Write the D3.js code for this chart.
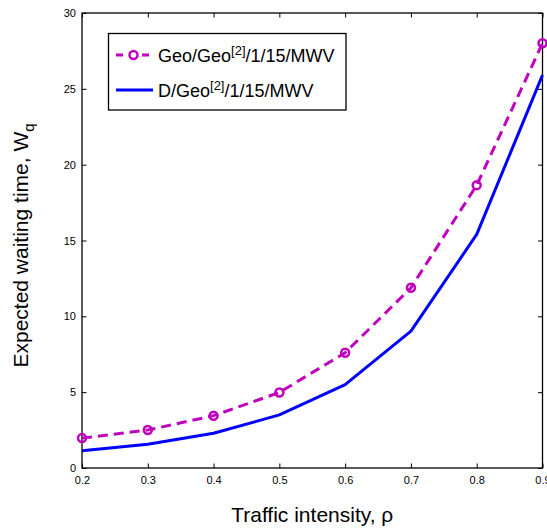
<!DOCTYPE html>
<html>
<head>
<meta charset="utf-8">
<script src="https://cdn.jsdelivr.net/npm/d3@7"></script>
<style>
  body { margin: 0; background: #fff; }
  svg { font-family: "Liberation Sans", Arial, Helvetica, sans-serif; }
</style>
</head>
<body>
<div class="display"></div>
<script>
// values
const rho = [0.2, 0.3, 0.4, 0.5, 0.6, 0.7, 0.8, 0.9];
const geoWait = [1.97, 2.5, 3.45, 4.98, 7.6, 11.88, 18.65, 28.0];
const detWait = [1.14, 1.57, 2.29, 3.5, 5.5, 9.02, 15.4, 25.9];
const xTicks = [0.2, 0.3, 0.4, 0.5, 0.6, 0.7, 0.8, 0.9];
const yTicks = [0, 5, 10, 15, 20, 25, 30];
const seriesNames = ['Geo/Geo', 'D/Geo'];

const config = {
  width: 547,
  height: 532,
  left: 82,
  right: 542.5,
  top: 13,
  bottom: 468,
  magenta: '#bf00bf',
  blue: '#0000ff'
};

const svg = d3.select('.display')
  .append('svg')
  .attr('width', config.width)
  .attr('height', config.height);

const x = d3.scaleLinear()
  .domain([0.2, 0.9])
  .range([config.left, config.right]);

const y = d3.scaleLinear()
  .domain([0, 30])
  .range([config.bottom, config.top]);

// axes, ticks pointing inside like matlab
const xAxis = svg.append('g')
  .attr('transform', `translate(0, ${config.bottom})`)
  .call(d3.axisBottom(x).tickValues(xTicks).tickFormat(d3.format('.1f'))
    .tickSizeInner(-4.5).tickSizeOuter(0).tickPadding(8));

svg.append('g')
  .attr('transform', `translate(0, ${config.top})`)
  .call(d3.axisTop(x).tickValues(xTicks).tickFormat('')
    .tickSizeInner(-4.5).tickSizeOuter(0));

const yAxis = svg.append('g')
  .attr('transform', `translate(${config.left}, 0)`)
  .call(d3.axisLeft(y).tickValues(yTicks)
    .tickSizeInner(-4.5).tickSizeOuter(0).tickPadding(6));

svg.append('g')
  .attr('transform', `translate(${config.right}, 0)`)
  .call(d3.axisRight(y).tickValues(yTicks).tickFormat('')
    .tickSizeInner(-4.5).tickSizeOuter(0));

svg.selectAll('.domain').remove();
svg.selectAll('.tick line').attr('stroke', '#000').attr('stroke-width', 1);
svg.selectAll('.tick text')
  .attr('fill', '#000')
  .style('font-size', '11px');

// frame
svg.append('rect')
  .attr('x', config.left)
  .attr('y', config.top)
  .attr('width', config.right - config.left)
  .attr('height', config.bottom - config.top)
  .attr('fill', 'none')
  .attr('stroke', '#000')
  .attr('stroke-width', 1.3);

const line = d3.line()
  .x((d, i) => x(rho[i]))
  .y(d => y(d));

svg.append('path')
  .datum(detWait)
  .attr('fill', 'none')
  .attr('stroke', config.blue)
  .attr('stroke-width', 3)
  .attr('stroke-linejoin', 'round')
  .attr('d', line);

svg.append('path')
  .datum(geoWait)
  .attr('fill', 'none')
  .attr('stroke', config.magenta)
  .attr('stroke-width', 3)
  .attr('stroke-dasharray', '10,6')
  .attr('d', line);

svg.selectAll('.marker')
  .data(geoWait)
  .enter()
  .append('circle')
  .attr('class', 'marker')
  .attr('cx', (d, i) => x(rho[i]))
  .attr('cy', d => y(d))
  .attr('r', 4)
  .attr('fill', 'none')
  .attr('stroke', config.magenta)
  .attr('stroke-width', 2.5);

// axis titles
svg.append('text')
  .attr('x', (config.left + config.right) / 2)
  .attr('y', 522)
  .attr('text-anchor', 'middle')
  .style('font-size', '21px')
  .text('Traffic intensity,  ρ');

const yTitle = svg.append('text')
  .attr('transform', `translate(27.5, ${(config.top + config.bottom) / 2 + 5}) rotate(-90)`)
  .attr('text-anchor', 'middle')
  .style('font-size', '21px');
yTitle.append('tspan').text('Expected waiting time, W');
yTitle.append('tspan').attr('dy', 6).style('font-size', '15px').text('q');

// legend
const legend = svg.append('g');
legend.append('rect')
  .attr('x', 108.5)
  .attr('y', 33.5)
  .attr('width', 237.5)
  .attr('height', 76.5)
  .attr('fill', '#fff')
  .attr('stroke', '#000')
  .attr('stroke-width', 1.3);

const rows = [
  { name: seriesNames[0], color: config.magenta, dash: '7,6', marker: true, cy: 55 },
  { name: seriesNames[1], color: config.blue, dash: null, marker: false, cy: 90 }
];

rows.forEach(r => {
  legend.append('line')
    .attr('x1', 116).attr('x2', 153)
    .attr('y1', r.cy).attr('y2', r.cy)
    .attr('stroke', r.color)
    .attr('stroke-width', 3)
    .attr('stroke-dasharray', r.dash);
  if (r.marker) {
    legend.append('circle')
      .attr('cx', 133.5).attr('cy', r.cy)
      .attr('r', 4)
      .attr('fill', '#fff')
      .attr('stroke', r.color)
      .attr('stroke-width', 2.5);
  }
  const t = legend.append('text')
    .attr('x', 158)
    .attr('y', r.cy + 7)
    .style('font-size', '18px');
  t.append('tspan').text(r.name);
  t.append('tspan').attr('dy', -7).style('font-size', '13px').text('[2]');
  t.append('tspan').attr('dy', 7).text('/1/15/MWV');
});
</script>
</body>
</html>
